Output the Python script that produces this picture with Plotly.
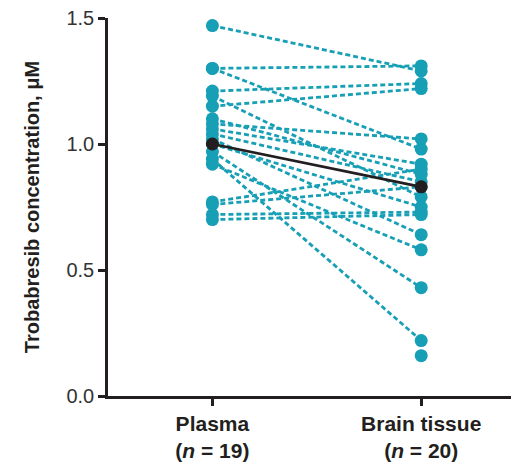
import plotly.graph_objects as go

categories = ["Plasma<br>(<i>n</i> = 19)", "Brain tissue<br>(<i>n</i> = 20)"]

# Paired samples (plasma -> brain tissue), µM
plasma_paired = [1.47, 1.30, 1.30, 1.21, 1.19, 1.15, 1.10, 1.08, 1.06, 1.04,
                 1.02, 1.00, 0.97, 0.94, 0.92, 0.77, 0.76, 0.72, 0.70]
brain_paired = [1.29, 1.31, 0.98, 1.24, 0.79, 1.22, 0.88, 1.02, 0.92, 0.85,
                0.64, 0.75, 0.43, 0.22, 0.58, 0.90, 0.83, 0.73, 0.72]
# Brain sample without plasma pair
brain_unpaired = [0.16]

mean_values = [1.00, 0.83]

TEAL = "#179fb6"
DARK = "#231f20"
FONT = "Liberation Sans, Arial, sans-serif"

fig = go.Figure()

for p, b in zip(plasma_paired, brain_paired):
    fig.add_trace(go.Scatter(
        x=[0, 1], y=[p, b], mode="lines+markers",
        line=dict(color=TEAL, width=2.8, dash="5px,3px"),
        marker=dict(color=TEAL, size=13),
        showlegend=False, hoverinfo="y"))

fig.add_trace(go.Scatter(
    x=[1] * len(brain_unpaired), y=brain_unpaired, mode="markers",
    marker=dict(color=TEAL, size=13), showlegend=False))

fig.add_trace(go.Scatter(
    x=[0, 1], y=mean_values, mode="lines+markers",
    line=dict(color=DARK, width=2.8),
    marker=dict(color=DARK, size=13),
    showlegend=False))

fig.update_layout(
    width=511, height=462,
    margin=dict(l=108, r=0, t=18, b=64),
    plot_bgcolor="white", paper_bgcolor="white",
    font=dict(family=FONT, color="#231f20"),
)

fig.update_xaxes(
    range=[-0.5, 1.43], tickvals=[0, 1],
    ticktext=["<b>" + c.replace("<br>", "</b><br><b>") + "</b>" for c in categories],
    showgrid=False, zeroline=False,
    showline=True, linecolor=DARK, linewidth=2.5,
    ticks="outside", ticklen=7, tickwidth=2.5, tickcolor=DARK,
    tickfont=dict(size=21, color="#231f20", family=FONT),
)
fig.update_yaxes(
    range=[0, 1.5], tickvals=[0, 0.5, 1.0, 1.5], tickformat=".1f",
    showgrid=False, zeroline=False,
    showline=True, linecolor=DARK, linewidth=2.5,
    ticks="outside", ticklen=7, tickwidth=2.5, tickcolor=DARK,
    tickfont=dict(size=20, color="#333333", family=FONT),
    title=dict(text="<b>Trobabresib concentration, μM</b>",
               font=dict(size=20, color="#231f20", family=FONT), standoff=22),
)

fig.write_html("out.html")
